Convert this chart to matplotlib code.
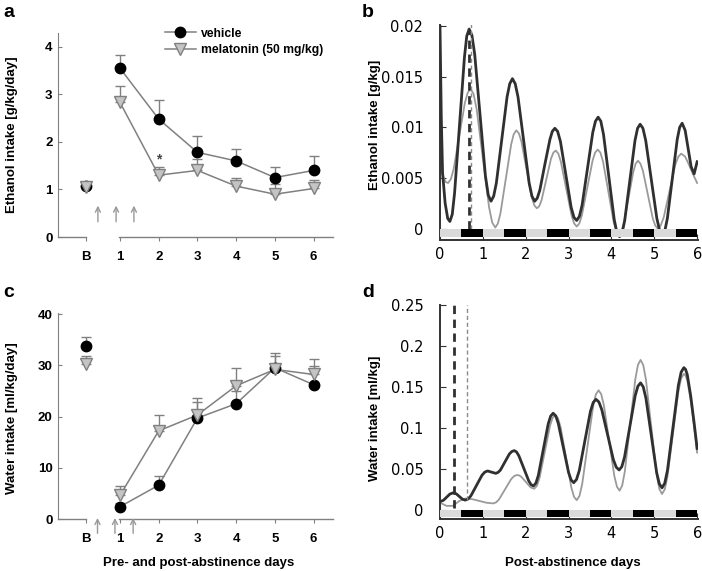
import matplotlib
matplotlib.use('Agg')
import matplotlib.pyplot as plt
from matplotlib.lines import Line2D

plt.rcParams['font.family'] = ['Liberation Sans', 'DejaVu Sans']

# ---------------- data: panels a / c ----------------
day_labels = ['B', '1', '2', '3', '4', '5', '6']
day_pos = [0.12, 1, 2, 3, 4, 5, 6]

eth_veh = [1.07, 3.55, 2.48, 1.78, 1.60, 1.25, 1.40]
eth_veh_sem = [0.05, 0.27, 0.40, 0.35, 0.26, 0.22, 0.31]
eth_mel = [1.05, 2.83, 1.30, 1.40, 1.07, 0.90, 1.02]
eth_mel_sem = [0.05, 0.34, 0.17, 0.23, 0.17, 0.22, 0.18]

wat_veh = [33.7, 2.4, 6.6, 19.7, 22.5, 29.5, 26.2]
wat_veh_sem = [1.9, 0.8, 1.8, 3.1, 2.5, 2.3, 3.6]
wat_mel = [30.2, 4.6, 17.2, 20.3, 26.0, 29.2, 28.2]
wat_mel_sem = [1.6, 1.9, 3.0, 3.4, 3.4, 3.1, 3.1]

injection_a = [0.43, 0.90, 1.36]
injection_c = [0.42, 0.87, 1.34]

# ---------------- data: panel b (ethanol, g/kg), (day, value) ----------------
b_veh = [(0, 0.0200), (0.03, 0.0110), (0.06, 0.0055), (0.12, 0.0025), (0.18, 0.0010), (0.23, 0.0007),
         (0.286, 0.0014), (0.34, 0.0035), (0.455, 0.0102), (0.57, 0.0169), (0.624, 0.0190),
         (0.68, 0.0197), (0.744, 0.0191), (0.81, 0.0172), (0.935, 0.0112), (1.06, 0.0052),
         (1.126, 0.0033), (1.19, 0.0027), (1.2525, 0.0032), (1.315, 0.0045), (1.44, 0.00875),
         (1.565, 0.0130), (1.6275, 0.0143), (1.69, 0.0148), (1.755, 0.0143), (1.82, 0.0130),
         (1.95, 0.00875), (2.08, 0.0045), (2.145, 0.0032), (2.21, 0.0027), (2.269, 0.0030),
         (2.33, 0.0038), (2.445, 0.0063), (2.565, 0.0088), (2.621, 0.0096), (2.68, 0.0099),
         (2.744, 0.0096), (2.81, 0.0086), (2.935, 0.00535), (3.06, 0.0021), (3.126, 0.0011),
         (3.19, 0.0008), (3.2525, 0.0012), (3.315, 0.0023), (3.44, 0.0059), (3.565, 0.0095),
         (3.6275, 0.0106), (3.69, 0.0110), (3.7525, 0.0106), (3.815, 0.0093), (3.94, 0.0051),
         (4.065, 0.0009), (4.1275, -0.0004), (4.19, -0.0008), (4.25, -0.0004), (4.31, 0.0008),
         (4.43, 0.00475), (4.55, 0.0087), (4.61, 0.0099), (4.67, 0.0103), (4.735, 0.0099),
         (4.80, 0.0087), (4.93, 0.00485), (5.06, 0.0010), (5.125, -0.0002), (5.19, -0.0006),
         (5.2475, -0.0002), (5.305, 0.0010), (5.42, 0.0049), (5.535, 0.0088), (5.5925, 0.0100),
         (5.65, 0.0104), (5.72, 0.0097), (5.79, 0.0079), (5.86, 0.0061), (5.93, 0.0054),
         (6.0, 0.0066)]
b_mel = [(0, 0.0060), (0.07, 0.0052), (0.13, 0.0046), (0.19, 0.0045), (0.255, 0.0049), (0.32, 0.0059),
         (0.45, 0.00915), (0.58, 0.0124), (0.645, 0.0134), (0.71, 0.0138), (0.7825, 0.0133),
         (0.855, 0.0118), (1.0, 0.00695), (1.145, 0.0021), (1.2175, 0.0006), (1.29, 0.0001),
         (1.351, 0.0005), (1.41, 0.0015), (1.535, 0.0049), (1.66, 0.0083), (1.719, 0.0093),
         (1.78, 0.0097), (1.84, 0.0094), (1.90, 0.0086), (2.02, 0.00585), (2.14, 0.0031),
         (2.2, 0.0023), (2.26, 0.0020), (2.315, 0.0022), (2.37, 0.0028), (2.48, 0.00485),
         (2.59, 0.0069), (2.645, 0.0075), (2.70, 0.0077), (2.761, 0.0074), (2.82, 0.0066),
         (2.945, 0.00395), (3.07, 0.0013), (3.129, 0.0005), (3.19, 0.0002), (3.251, 0.0005),
         (3.31, 0.0013), (3.435, 0.0040), (3.56, 0.0067), (3.619, 0.0075), (3.68, 0.0078),
         (3.7425, 0.0075), (3.805, 0.0066), (3.93, 0.0036), (4.055, 0.0006), (4.1175, -0.0003),
         (4.18, -0.0006), (4.235, -0.0003), (4.29, 0.0005), (4.40, 0.00305), (4.51, 0.0056),
         (4.565, 0.0064), (4.62, 0.0067), (4.6775, 0.0064), (4.735, 0.0057), (4.85, 0.00335),
         (4.965, 0.0010), (5.0225, 0.0003), (5.08, 0.0000), (5.149, 0.0003), (5.22, 0.0011),
         (5.355, 0.0037), (5.49, 0.0063), (5.561, 0.0071), (5.63, 0.0074), (5.72, 0.0071),
         (5.81, 0.0063), (5.90, 0.0054), (6.0, 0.0045)]
b_acro = [0.68, 0.73]
b_acro_top = [0.0197, 0.0203]

# ---------------- data: panel d (water, ml/kg) ----------------
d_veh = [(0, 0.0102), (0.08, 0.0118), (0.155, 0.0156), (0.23, 0.0194), (0.31, 0.0210), (0.38, 0.0197),
         (0.45, 0.0165), (0.52, 0.0133), (0.59, 0.0120), (0.655, 0.0134), (0.72, 0.0172),
         (0.85, 0.0298), (0.98, 0.0424), (1.045, 0.0462), (1.11, 0.0476), (1.20, 0.0462),
         (1.30, 0.0447), (1.354, 0.0458), (1.41, 0.0487), (1.515, 0.0586), (1.62, 0.0684),
         (1.676, 0.0713), (1.73, 0.0724), (1.786, 0.0708), (1.84, 0.0661), (1.955, 0.0509),
         (2.07, 0.0356), (2.124, 0.0309), (2.18, 0.0293), (2.2375, 0.0327), (2.295, 0.0423),
         (2.41, 0.0737), (2.525, 0.1050), (2.5825, 0.1146), (2.64, 0.1180), (2.70, 0.1148),
         (2.76, 0.1056), (2.88, 0.0757), (3.0, 0.0457), (3.06, 0.0365), (3.12, 0.0333),
         (3.185, 0.0372), (3.25, 0.0481), (3.38, 0.0842), (3.51, 0.1202), (3.575, 0.1311),
         (3.64, 0.1350), (3.7075, 0.1317), (3.775, 0.1224), (3.91, 0.0919), (4.045, 0.0614),
         (4.1125, 0.0521), (4.18, 0.0488), (4.2425, 0.0528), (4.305, 0.0643), (4.43, 0.1019),
         (4.555, 0.1395), (4.6175, 0.1510), (4.68, 0.1550), (4.7425, 0.1501), (4.805, 0.1363),
         (4.93, 0.0910), (5.055, 0.0457), (5.1175, 0.0319), (5.18, 0.0270), (5.244, 0.0326),
         (5.3075, 0.0484), (5.435, 0.1003), (5.5625, 0.1522), (5.626, 0.1680), (5.69, 0.1736),
         (5.73, 0.1715), (5.77, 0.1650), (5.85, 0.1390), (5.93, 0.1060), (6.0, 0.0750)]
d_mel = [(0, 0.0090), (0.15, 0.0050), (0.30, 0.0050), (0.45, 0.0110), (0.60, 0.0140), (0.76, 0.0131),
         (0.92, 0.0110), (1.08, 0.0089), (1.24, 0.0080), (1.31, 0.0093), (1.38, 0.0131),
         (1.52, 0.0254), (1.66, 0.0376), (1.73, 0.0414), (1.80, 0.0427), (1.85, 0.0421),
         (1.90, 0.0403), (2.00, 0.0344), (2.10, 0.0284), (2.15, 0.0266), (2.20, 0.0260),
         (2.261, 0.0294), (2.3225, 0.0391), (2.445, 0.0710), (2.5675, 0.1029), (2.629, 0.1126),
         (2.69, 0.1160), (2.7525, 0.1120), (2.815, 0.1008), (2.94, 0.0640), (3.065, 0.0272),
         (3.1275, 0.0160), (3.19, 0.0120), (3.254, 0.0171), (3.3175, 0.0316), (3.445, 0.0790),
         (3.5725, 0.1264), (3.636, 0.1409), (3.70, 0.1460), (3.761, 0.1413), (3.8225, 0.1281),
         (3.945, 0.0848), (4.0675, 0.0415), (4.129, 0.0283), (4.19, 0.0236), (4.251, 0.0297),
         (4.3125, 0.0469), (4.435, 0.1033), (4.5575, 0.1597), (4.619, 0.1769), (4.68, 0.1830),
         (4.7425, 0.1768), (4.805, 0.1591), (4.93, 0.1013), (5.055, 0.0434), (5.1175, 0.0257),
         (5.18, 0.0195), (5.244, 0.0251), (5.3075, 0.0409), (5.435, 0.0928), (5.5625, 0.1446),
         (5.626, 0.1604), (5.69, 0.1660), (5.73, 0.1640), (5.77, 0.1580), (5.85, 0.1340),
         (5.93, 0.1010), (6.0, 0.0700)]
d_acro = [0.33, 0.62]
d_acro_bottom = [0.002, 0.012]

# light/dark phases (12 h each)
phase_start = [i * 0.5 for i in range(12)]
phase_kind = ['light', 'dark'] * 6

# ---------------- styles ----------------
GRAY_LINE = '#808080'
TRI_FILL = '#c4c4c4'
W, H = 702, 571

fig = plt.figure(figsize=(W / 100, H / 100), dpi=100)


def fx(px):
    return px / W


def fy(py):
    return 1 - py / H


def panel_daily(ax, veh, veh_sem, mel, mel_sem, ylim, yticks, inj, inj_y):
    ax.errorbar(day_pos, veh, yerr=[[0] * len(veh), veh_sem], fmt='none', ecolor=GRAY_LINE,
                elinewidth=1, capsize=3.5, capthick=1, zorder=1)
    ax.errorbar(day_pos, mel, yerr=[[0] * len(mel), mel_sem], fmt='none', ecolor=GRAY_LINE,
                elinewidth=1, capsize=3.5, capthick=1, zorder=1)
    ax.plot(day_pos[1:], veh[1:], color=GRAY_LINE, lw=1.1, zorder=2)
    ax.plot(day_pos[1:], mel[1:], color=GRAY_LINE, lw=1.1, zorder=2)
    ax.plot(day_pos, veh, 'o', ms=7.5, mfc='black', mec='black', zorder=3)
    ax.plot(day_pos, mel, 'v', ms=8.5, mfc=TRI_FILL, mec=GRAY_LINE, mew=1, zorder=4)
    ax.set_xlim(-0.6, 6.5)
    ax.set_ylim(*ylim)
    ax.spines['top'].set_visible(False)
    ax.spines['right'].set_visible(False)
    ax.spines['bottom'].set_visible(False)
    ax.spines['left'].set_color(GRAY_LINE)
    ax.plot([-0.6, day_pos[0]], [0, 0], color=GRAY_LINE, lw=1, clip_on=False)
    ax.plot([0.98, 6.5], [0, 0], color=GRAY_LINE, lw=1, clip_on=False)
    ax.set_xticks(day_pos, day_labels)
    ax.set_yticks(yticks)
    ax.tick_params(axis='x', direction='out', length=3, color=GRAY_LINE, labelsize=9.5, pad=7)
    ax.tick_params(axis='y', direction='in', length=3, color=GRAY_LINE, labelsize=9.5, pad=4)
    for lbl in ax.get_xticklabels() + ax.get_yticklabels():
        lbl.set_fontweight('bold')
    for x in inj:
        ax.annotate('', xy=(x, inj_y[1]), xytext=(x, inj_y[0]),
                    arrowprops=dict(arrowstyle='->', color='#999999', lw=1,
                                    shrinkA=0, shrinkB=0, mutation_scale=9),
                    annotation_clip=False)


def panel_circ(ax, veh, mel, ylim, yticks, yticklabels, bar_h):
    xm, ym = zip(*mel)
    xv, yv = zip(*veh)
    ax.plot(xm, ym, color='#9a9a9a', lw=1.3, zorder=2, solid_joinstyle='round')
    ax.plot(xv, yv, color='#303030', lw=2.0, zorder=3, solid_joinstyle='round')
    for s, k in zip(phase_start, phase_kind):
        ax.bar(s, -bar_h, bottom=0, width=0.5, align='edge',
               color='#dadada' if k == 'light' else 'black', zorder=5)
    ax.set_xlim(0, 6.02)
    ax.set_ylim(*ylim)
    ax.spines['top'].set_visible(False)
    ax.spines['right'].set_visible(False)
    for sp in ('left', 'bottom'):
        ax.spines[sp].set_color('#333333')
        ax.spines[sp].set_linewidth(1.4)
    ax.set_xticks(range(7))
    ax.set_yticks(yticks, yticklabels)
    ax.tick_params(axis='both', direction='in', length=4, color='#333333', labelsize=10.5,
                   labelfontfamily='DejaVu Sans')
    ax.tick_params(axis='y', pad=12)
    ax.tick_params(axis='x', pad=5)


# ---------- panel a ----------
ax_a = fig.add_axes([fx(58), fy(237), fx(333 - 58), (237 - 33) / H])
panel_daily(ax_a, eth_veh, eth_veh_sem, eth_mel, eth_mel_sem, (0, 4.29), [0, 1, 2, 3, 4],
            injection_a, (0.32, 0.66))
ax_a.text(day_pos[2], eth_mel[2] + eth_mel_sem[2] + 0.02, '*', ha='center', va='bottom',
          fontsize=10, fontweight='bold', color='#444444')
handles = [Line2D([], [], color=GRAY_LINE, lw=1.1, marker='o', ms=7.5, mfc='black', mec='black'),
           Line2D([], [], color=GRAY_LINE, lw=1.1, marker='v', ms=8.5, mfc=TRI_FILL, mec=GRAY_LINE)]
ax_a.legend(handles, ['vehicle', 'melatonin (50 mg/kg)'], loc='upper left',
            bbox_to_anchor=(0.37, 1.05), frameon=False, handlelength=2.6, handletextpad=0.4,
            labelspacing=0.35, borderaxespad=0, prop={'weight': 'bold', 'size': 8.7})

# ---------- panel c ----------
ax_c = fig.add_axes([fx(58), fy(519), fx(333 - 58), (519 - 313) / H])
panel_daily(ax_c, wat_veh, wat_veh_sem, wat_mel, wat_mel_sem, (0, 40.2), [0, 10, 20, 30, 40],
            injection_c, (-2.8, 0.2))

# ---------- panel b ----------
ax_b = fig.add_axes([fx(440), fy(240), fx(698 - 440), (240 - 25) / H])
panel_circ(ax_b, b_veh, b_mel, (-0.00113, 0.0201),
           [0, 0.005, 0.01, 0.015, 0.02], ['0', '0.005', '0.01', '0.015', '0.02'], 0.0008)
ax_b.vlines(b_acro[0], 0, b_acro_top[0], colors='#303030', lw=2, linestyles=(0, (3, 2)), zorder=4)
ax_b.vlines(b_acro[1], 0, b_acro_top[1], colors='#8a8a8a', lw=1, linestyles=(0, (3, 2)), zorder=4)

# ---------- panel d ----------
ax_d = fig.add_axes([fx(440), fy(519), fx(698 - 440), (519 - 305) / H])
panel_circ(ax_d, d_veh, d_mel, (-0.011, 0.25),
           [0, 0.05, 0.1, 0.15, 0.2, 0.25], ['0', '0.05', '0.1', '0.15', '0.2', '0.25'], 0.009)
ax_d.vlines(d_acro[0], d_acro_bottom[0], 0.25, colors='#303030', lw=2, linestyles=(0, (3, 2)), zorder=4)
ax_d.vlines(d_acro[1], d_acro_bottom[1], 0.25, colors='#8a8a8a', lw=1, linestyles=(0, (3, 2)), zorder=4)

# ---------- labels ----------
lab = dict(fontweight='bold', fontsize=9.5, ha='center', va='center')
fig.text(fx(12), fy(135), 'Ethanol intake [g/kg/day]', rotation=90, **lab)
fig.text(fx(12), fy(418), 'Water intake [ml/kg/day]', rotation=90, **lab)
fig.text(fx(375), fy(125), 'Ethanol intake [g/kg]', rotation=90, **lab)
fig.text(fx(375), fy(418), 'Water intake [ml/kg]', rotation=90, **lab)
fig.text(fx(199), fy(563), 'Pre- and post-abstinence days', **lab)
fig.text(fx(573), fy(563), 'Post-abstinence days', **lab)

for t, x, y in [('a', 3, 17), ('b', 362, 17), ('c', 3, 297), ('d', 362, 297)]:
    fig.text(fx(x), fy(y), t, fontsize=14, fontweight='bold', ha='left', va='baseline')

fig.savefig('out.png', dpi=100)
